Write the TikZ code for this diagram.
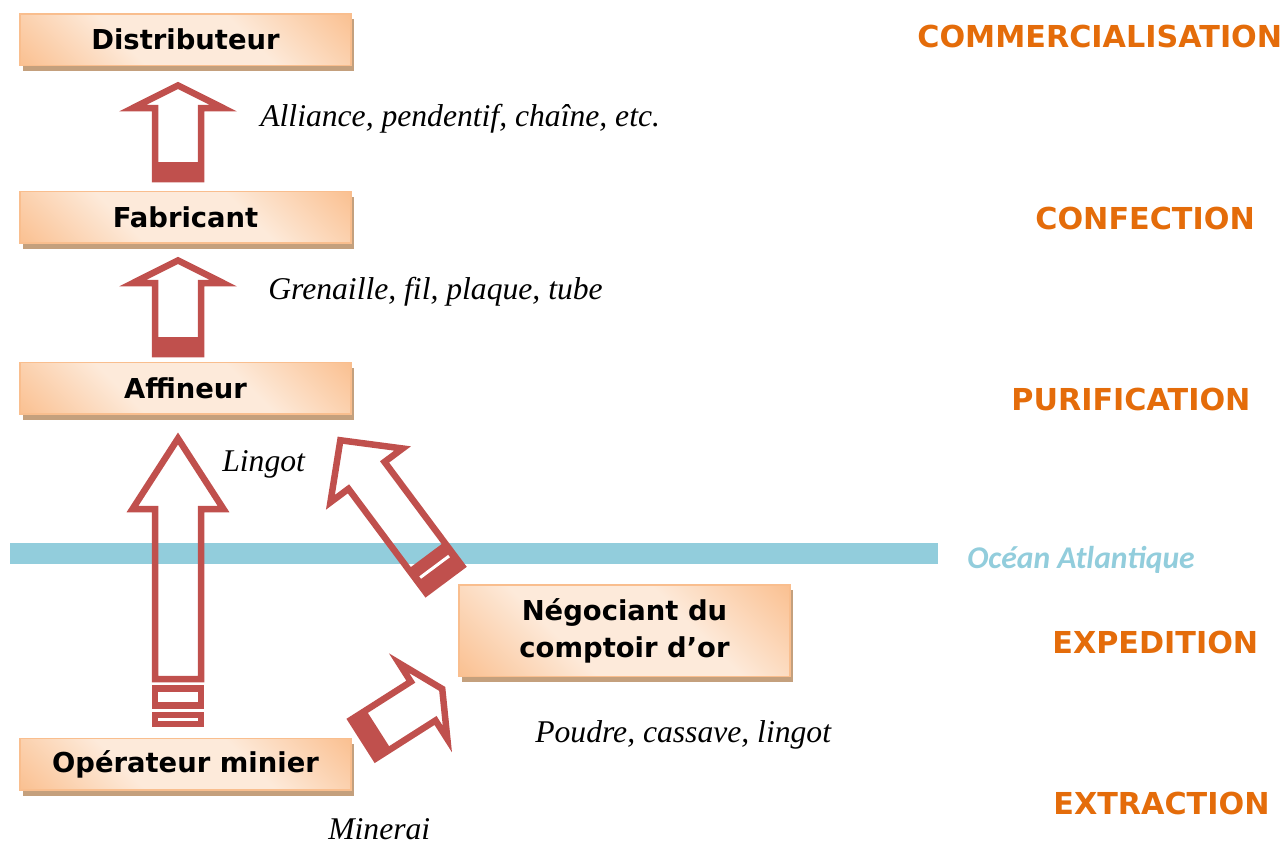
\documentclass[tikz,border=0pt]{standalone}
\usepackage{fontspec}
\setmainfont{Liberation Serif}
\newfontfamily\boxfont{DejaVu Sans}
\newfontfamily\oceanfont{Carlito}
\usetikzlibrary{shadows,positioning}
\definecolor{boxdark}{RGB}{250,191,143}
\definecolor{boxlight}{RGB}{253,234,218}
\definecolor{boxline}{RGB}{249,190,142}
\definecolor{boxshadow}{RGB}{196,160,125}
\definecolor{arrowred}{RGB}{192,80,77}
\definecolor{stagecol}{RGB}{228,108,10}
\definecolor{oceancol}{RGB}{146,205,220}
\pgfdeclarehorizontalshading{boxshade}{100bp}{color(0bp)=(boxdark); color(14bp)=(boxdark); color(38bp)=(boxlight); color(62bp)=(boxlight); color(86bp)=(boxdark); color(100bp)=(boxdark)}
\tikzstyle{actor}=[rectangle,
                   draw=boxline,
                   line width=0.03cm,
                   shade,
                   shading=boxshade,
                   shading angle=45,
                   minimum width=6.63cm,
                   minimum height=1.03cm,
                   align=center,
                   font=\boxfont\bfseries\fontsize{15.6}{21}\selectfont,
                   drop shadow={shadow xshift=0.06cm, shadow yshift=-0.11cm, fill=boxshadow, opacity=1}]
\tikzstyle{stage}=[anchor=base west,
                   inner sep=0pt,
                   text=stagecol,
                   font=\boxfont\bfseries\fontsize{17.2}{20}\selectfont]
\tikzstyle{goods}=[anchor=base west,
                   inner sep=0pt,
                   font=\itshape\fontsize{18}{21}\selectfont]
\tikzstyle{flow}=[draw=arrowred, line width=0.13cm, line join=miter]
\tikzstyle{stripe}=[fill=arrowred]

\begin{document}
\begin{tikzpicture}[x=0.02cm, y=-0.02cm]
    \useasboundingbox (0,0) rectangle (1282,846);
    \fill[oceancol] (10,543) rectangle (938,564);
    \node[anchor=base west, inner sep=0pt, text=oceancol, font=\oceanfont\bfseries\itshape\fontsize{18}{20}\selectfont] (ocean) at (967,568) {Océan Atlantique};

    \node[actor] (dist) at (185.5,39.5) {Distributeur};
    \node[actor, below of=dist, node distance=3.56cm] (fab) {Fabricant};
    \node[actor, below of=fab, node distance=3.42cm] (aff) {Affineur};
    \node[actor, below of=aff, node distance=7.52cm] (op) {Opérateur minier};
    \node[actor, minimum height=1.83cm] (neg) at (624.5,630.5) {Négociant du\\ comptoir d’or};

    % Fabricant -> Distributeur
    \begin{scope}[shift={(178,179)}]
        \fill[stripe] (-23,0) rectangle (23,-17);
        \draw[flow] (-23,0) -- (-23,-71) -- (-45,-71) -- (0,-93.6) -- (45,-71) -- (23,-71) -- (23,0) -- cycle;
    \end{scope}
    % Affineur -> Fabricant
    \begin{scope}[shift={(178,354)}]
        \fill[stripe] (-23,0) rectangle (23,-17);
        \draw[flow] (-23,0) -- (-23,-71) -- (-45,-71) -- (0,-93.6) -- (45,-71) -- (23,-71) -- (23,0) -- cycle;
    \end{scope}
    % Operateur -> Affineur
    \begin{scope}[shift={(178,679)}]
        \draw[flow] (-23,0) -- (-23,-170) -- (-45.5,-170) -- (0,-240.5) -- (45.5,-170) -- (23,-170) -- (23,0) -- cycle;
        \draw[flow] (-23,9.5) rectangle (23,26.5);
        \draw[flow] (-23,36) rectangle (23,45);
    \end{scope}
    % Negociant -> Affineur
    \begin{scope}[shift={(444.2,579.6)}, rotate=36.7]
        \fill[stripe] (-22.5,0) rectangle (22.5,-30);
        \draw[flow] (-22.5,0) -- (-22.5,-130) -- (-45,-130) -- (0,-173.8) -- (45,-130) -- (22.5,-130) -- (22.5,0) -- cycle;
        \draw[white, line width=0.06cm] (-18,-16) -- (18,-16);
    \end{scope}
    % Operateur -> Negociant
    \begin{scope}[shift={(363.3,739.2)}, rotate=-57.5]
        \fill[stripe] (-23,0) rectangle (23,-18);
        \draw[flow] (-23,0) -- (-23,-71) -- (-45,-71) -- (0,-93.6) -- (45,-71) -- (23,-71) -- (23,0) -- cycle;
    \end{scope}

    \node[goods] (jewels) at (260,126) {Alliance, pendentif, chaîne, etc.};
    \node[goods] (semi) at (268,299) {Grenaille, fil, plaque, tube};
    \node[goods] (ingot) at (222,471) {Lingot};
    \node[goods] (raw) at (535,742) {Poudre, cassave, lingot};
    \node[goods] (ore) at (328,839) {Minerai};

    \node[stage] (sale) at (917,47) {COMMERCIALISATION};
    \node[stage] (make) at (1035,229) {CONFECTION};
    \node[stage] (pure) at (1011,410) {PURIFICATION};
    \node[stage] (ship) at (1052,653) {EXPEDITION};
    \node[stage] (mine) at (1053,814) {EXTRACTION};
\end{tikzpicture}
\end{document}
